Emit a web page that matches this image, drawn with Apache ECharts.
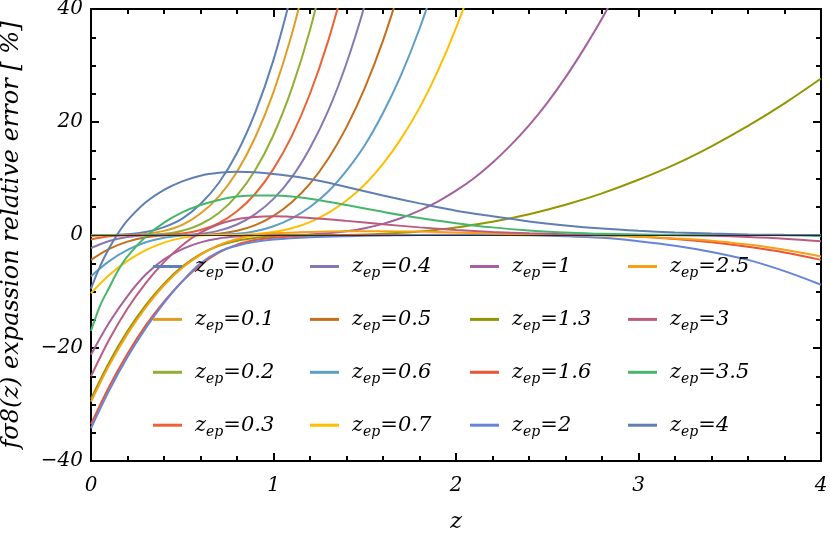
<!DOCTYPE html>
<html><head><meta charset="utf-8">
<script src="https://cdn.jsdelivr.net/npm/echarts@6/dist/echarts.min.js"></script>
<style>html,body{margin:0;padding:0;background:#fff}#c{width:830px;height:536px}</style>
</head><body><div id="c"></div>
<script>
// legend labels (z_ep values) and colours
const epLabels = ['0.0','0.1','0.2','0.3','0.4','0.5','0.6','0.7','1','1.3','1.6','2','2.5','3','3.5','4'];
const epColors = ['#5E81B5','#E19C24','#8FB032','#EB6235','#8778B3','#C56E1A','#5D9EC7','#FFBF00','#A5609D','#929600','#E95536','#6685D9','#F89F13','#BC5B80','#47B66D','#5F7FB3'];
const xTicks = [0,1,2,3,4];
const yTicks = [-40,-20,0,20,40];

// [z, relative error %]
const ep00 = [[0,0],[0.1,0],[0.2,0.13],[0.3,0.52],[0.4,1.4],[0.5,2.9],[0.6,5.5],[0.7,9.2],[0.8,14.5],[0.9,21.7],[1.0,31],[1.1,42.9]];
const ep01 = [[0,-0.1],[0.1,0],[0.2,0.02],[0.3,0.2],[0.4,0.73],[0.5,1.8],[0.6,3.8],[0.7,6.8],[0.8,11.2],[0.9,17.3],[1.0,25.3],[1.1,35.5],[1.2,48.3]];
const ep02 = [[0,-0.2],[0.1,-0.02],[0.2,0],[0.3,0.02],[0.4,0.21],[0.5,0.76],[0.6,1.9],[0.7,3.9],[0.8,7.0],[0.9,11.5],[1.0,17.7],[1.1,25.9],[1.2,36.3],[1.3,49.3]];
const ep03 = [[0,-0.8],[0.1,-0.24],[0.2,-0.03],[0.3,0],[0.4,0.03],[0.5,0.26],[0.6,0.9],[0.7,2.1],[0.8,4.2],[0.9,7.3],[1.0,11.7],[1.1,17.5],[1.2,25.0],[1.3,34.4],[1.4,45.9]];
const ep04 = [[0,-2.3],[0.1,-1.06],[0.2,-0.35],[0.3,-0.05],[0.4,0],[0.5,0.03],[0.6,0.22],[0.7,0.77],[0.8,1.86],[0.9,3.7],[1.0,6.4],[1.1,10.2],[1.2,15.4],[1.3,22.0],[1.4,30.4],[1.5,40.7],[1.6,53]];
const ep05 = [[0,-4.4],[0.1,-2.46],[0.2,-1.17],[0.3,-0.41],[0.4,-0.07],[0.5,0],[0.6,0.03],[0.7,0.23],[0.8,0.75],[0.9,1.76],[1.0,3.4],[1.1,5.8],[1.2,9.1],[1.3,13.5],[1.4,19.1],[1.5,26.0],[1.6,34.4],[1.7,44.4]];
const ep06 = [[0,-7.3],[0.1,-4.63],[0.2,-2.65],[0.3,-1.29],[0.4,-0.47],[0.5,-0.08],[0.6,0],[0.7,0.03],[0.8,0.21],[0.9,0.67],[1.0,1.54],[1.1,2.94],[1.2,4.96],[1.3,7.7],[1.4,11.4],[1.5,15.9],[1.6,21.6],[1.7,28.4],[1.8,36.5],[1.9,46.0]];
const ep07 = [[0,-10.3],[0.1,-7.1],[0.2,-4.59],[0.3,-2.69],[0.4,-1.35],[0.5,-0.51],[0.6,-0.1],[0.7,0],[0.8,0.02],[0.9,0.16],[1.0,0.52],[1.1,1.2],[1.2,2.29],[1.3,3.9],[1.4,6.1],[1.5,8.95],[1.6,12.6],[1.7,17.1],[1.8,22.5],[1.9,29.0],[2.0,36.6],[2.1,45.4]];
const ep10 = [[0,-21.2],[0.1,-15.5],[0.2,-10.8],[0.3,-7.0],[0.4,-4.3],[0.5,-2.5],[0.6,-1.3],[0.7,-0.6],[0.8,-0.25],[0.9,-0.06],[1.0,0],[1.1,0.02],[1.2,0.1],[1.3,0.3],[1.4,0.66],[1.5,1.21],[1.6,1.97],[1.7,3.0],[1.8,4.3],[1.9,5.9],[2.0,7.84],[2.1,10.1],[2.2,12.8],[2.3,15.9],[2.4,19.4],[2.5,23.4],[2.6,27.9],[2.7,32.9],[2.8,38.3],[2.9,44.4]];
const ep13 = [[0,-29],[0.1,-22.5],[0.2,-17.0],[0.3,-12.4],[0.4,-8.6],[0.5,-5.6],[0.6,-3.4],[0.7,-1.9],[0.8,-1.0],[0.9,-0.5],[1.0,-0.2],[1.1,-0.06],[1.2,0],[1.3,0],[1.4,0.02],[1.5,0.08],[1.6,0.2],[1.7,0.38],[1.8,0.62],[1.9,0.94],[2.0,1.33],[2.2,2.33],[2.4,3.67],[2.6,5.34],[2.8,7.37],[3.0,9.77],[3.2,12.5],[3.4,15.7],[3.6,19.3],[3.8,23.3],[4.0,27.7]];
const ep16 = [[0,-33.5],[0.1,-26.8],[0.2,-21.0],[0.3,-16.0],[0.4,-11.8],[0.5,-8.2],[0.6,-5.3],[0.7,-3.1],[0.8,-1.7],[0.9,-0.9],[1.0,-0.5],[1.2,-0.15],[1.4,-0.03],[1.6,0],[1.8,0.02],[2.0,0.05],[2.4,0.08],[2.8,0],[3.0,-0.3],[3.2,-0.7],[3.4,-1.3],[3.6,-2.1],[3.8,-3.1],[4.0,-4.4]];
const ep20 = [[0,-34.2],[0.1,-27.5],[0.2,-21.6],[0.3,-16.5],[0.4,-12.0],[0.5,-8.2],[0.6,-5.0],[0.7,-3.0],[0.8,-1.9],[0.9,-1.2],[1.0,-0.8],[1.2,-0.4],[1.4,-0.2],[1.6,-0.1],[1.8,0],[2.0,0],[2.2,0],[2.4,-0.05],[2.6,-0.2],[2.8,-0.5],[3.0,-1.1],[3.2,-1.9],[3.4,-3.0],[3.6,-4.4],[3.8,-6.4],[4.0,-8.8]];
const ep25 = [[0,-29.5],[0.1,-23.0],[0.2,-17.5],[0.3,-12.8],[0.4,-8.9],[0.5,-5.8],[0.6,-3.5],[0.7,-1.8],[0.8,-0.7],[0.9,0],[1.0,0.3],[1.2,0.55],[1.4,0.65],[1.6,0.65],[1.8,0.6],[2.0,0.45],[2.2,0.25],[2.5,0],[2.8,-0.1],[3.0,-0.3],[3.2,-0.6],[3.4,-1.0],[3.6,-1.7],[3.8,-2.6],[4.0,-3.8]];
const ep30 = [[0,-25],[0.1,-18.5],[0.2,-13.0],[0.3,-8.5],[0.4,-4.8],[0.5,-1.8],[0.6,0.4],[0.7,1.9],[0.8,2.8],[0.9,3.2],[1.0,3.3],[1.2,3.0],[1.4,2.5],[1.6,1.9],[1.8,1.35],[2.0,0.9],[2.2,0.55],[2.4,0.3],[2.6,0.15],[2.8,0.05],[3.0,0],[3.2,-0.05],[3.4,-0.15],[3.6,-0.35],[3.8,-0.65],[4.0,-1.1]];
const ep35 = [[0,-17],[0.05,-12.5],[0.1,-9.3],[0.15,-6.2],[0.2,-3.8],[0.3,-0.3],[0.4,2.2],[0.5,4.0],[0.6,5.3],[0.7,6.2],[0.8,6.8],[0.9,7.0],[1.0,7.0],[1.1,6.8],[1.2,6.4],[1.4,5.3],[1.6,4.1],[1.8,3.0],[2.0,2.1],[2.2,1.35],[2.4,0.8],[2.6,0.45],[2.8,0.2],[3.0,0.1],[3.2,0.03],[3.5,0],[3.8,-0.05],[4.0,-0.2]];
const ep40 = [[0,-9.5],[0.05,-5.5],[0.1,-2.3],[0.15,0.4],[0.2,2.6],[0.3,5.8],[0.4,8.0],[0.5,9.5],[0.6,10.5],[0.7,11.0],[0.8,11.2],[0.9,11.1],[1.0,10.8],[1.2,9.9],[1.4,8.5],[1.6,7.0],[1.8,5.6],[2.0,4.3],[2.2,3.3],[2.4,2.4],[2.6,1.7],[2.8,1.15],[3.0,0.75],[3.2,0.45],[3.4,0.25],[3.6,0.1],[3.8,0.03],[4.0,0]];

const curves = [ep00,ep01,ep02,ep03,ep04,ep05,ep06,ep07,ep10,ep13,ep16,ep20,ep25,ep30,ep35,ep40];

const FONT = 'DejaVu Serif';
const minus = v => (v < 0 ? '\u2212' + (-v) : '' + v);

const series = curves.map((d, i) => ({
  name: epLabels[i], type: 'line', data: d, smooth: 0.35, symbol: 'none',
  clip: true, color: epColors[i],
  lineStyle: { width: 2, color: epColors[i] },
  emphasis: { disabled: true },
  markLine: i === 0 ? { silent: true, symbol: 'none', label: { show: false },
    lineStyle: { color: '#2b2b2b', width: 1.2, type: 'solid' }, data: [{ yAxis: 0 }] } : undefined
}));

const rich = {
  a: { fontFamily: FONT, fontStyle: 'italic', fontSize: 21, lineHeight: 28, color: '#000' },
  b: { fontFamily: FONT, fontStyle: 'italic', fontSize: 14, lineHeight: 18, verticalAlign: 'bottom', color: '#000' }
};
const colLefts = [148, 305, 465, 623];
const legends = [0,1,2,3].map(c => ({
  orient: 'vertical', left: colLefts[c], top: 251, itemGap: 28.4,
  itemWidth: 29, itemHeight: 3, icon: 'rect', selectedMode: false,
  data: epLabels.slice(c*4, c*4+4),
  formatter: n => '{a|z}{b|ep}{a|=' + n + '}',
  textStyle: { rich: rich, padding: [0,0,0,8] }
}));

const axisCommon = (isX, pos, show) => ({
  type: 'value', position: pos,
  min: isX ? xTicks[0] : yTicks[0], max: isX ? xTicks[xTicks.length-1] : yTicks[yTicks.length-1],
  interval: isX ? 1 : 20,
  axisLine: { show: true, onZero: false, lineStyle: { color: '#000', width: 2 } },
  axisTick: { show: true, inside: true, length: 8, lineStyle: { color: '#000', width: 2 } },
  minorTick: { show: true, splitNumber: isX ? 5 : 4, length: 5, lineStyle: { color: '#000', width: 2 } },
  splitLine: { show: false }, minorSplitLine: { show: false },
  axisLabel: { show: show, formatter: minus, fontFamily: FONT, fontStyle: 'italic', fontSize: 20, color: '#000', margin: isX ? 15 : 8 }
});

const xMain = Object.assign(axisCommon(true, 'bottom', true), {
  name: 'z', nameLocation: 'middle', nameGap: 50,
  nameTextStyle: { fontFamily: FONT, fontStyle: 'italic', fontSize: 22, color: '#000' }
});
const yMain = Object.assign(axisCommon(false, 'left', true), {
  name: 'f\u03c38(z) expassion relative error [ %]', nameLocation: 'middle', nameGap: 67,
  nameTextStyle: { fontFamily: FONT, fontStyle: 'italic', fontSize: 24, color: '#000' }
});

const chart = echarts.init(document.getElementById('c'), null, { renderer: 'canvas' });
chart.setOption({
  animation: false,
  backgroundColor: '#fff',
  grid: { left: 91, right: 9, top: 9, bottom: 75, containLabel: false, outerBoundsMode: 'none' },
  xAxis: [xMain, axisCommon(true, 'top', false)],
  yAxis: [yMain, axisCommon(false, 'right', false)],
  legend: legends,
  series: series
});
</script></body></html>
